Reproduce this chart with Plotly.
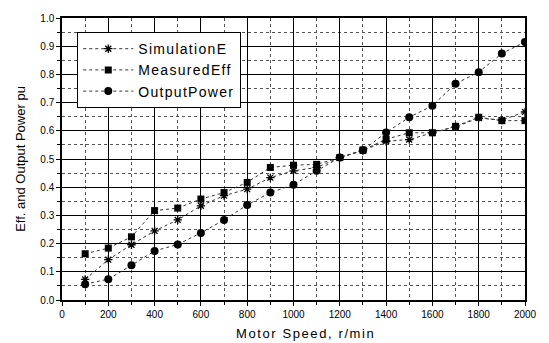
import plotly.graph_objects as go

# Motor speed (r/min)
speed = [100, 200, 300, 400, 500, 600, 700, 800, 900, 1000,
         1100, 1200, 1300, 1400, 1500, 1600, 1700, 1800, 1900, 2000]

# Simulated efficiency (pu)
sim_eff = [0.073, 0.143, 0.196, 0.245, 0.284, 0.334, 0.370, 0.393, 0.434, 0.458,
           0.470, 0.505, 0.530, 0.563, 0.569, 0.593, 0.614, 0.645, 0.638, 0.667]

# Measured efficiency (pu)
meas_eff = [0.164, 0.184, 0.224, 0.317, 0.326, 0.358, 0.381, 0.417, 0.470, 0.478,
            0.481, 0.505, 0.532, 0.570, 0.593, 0.593, 0.616, 0.648, 0.636, 0.636]

# Output power (pu)
out_power = [0.056, 0.074, 0.123, 0.174, 0.197, 0.238, 0.284, 0.337, 0.381, 0.409,
             0.458, 0.505, 0.531, 0.594, 0.648, 0.689, 0.767, 0.808, 0.874, 0.915]

series_names = ["SimulationE", "MeasuredEff", "OutputPower"]
x_title = "Motor Speed, r/min"
y_title = "Eff. and Output Power pu"

x_ticks = list(range(0, 2001, 200))
y_ticks = [round(v * 0.1, 1) for v in range(0, 11)]

font_family = "Liberation Sans, Arial, sans-serif"
line_style = dict(color="#333333", width=1, dash="dot")


def spaced(text, px):
    """Wrap text in a span with extra letter spacing."""
    return f'<span style="letter-spacing:{px}px">{text}</span>'


fig = go.Figure()
fig.add_trace(go.Scatter(
    x=speed, y=sim_eff, name=spaced(series_names[0], 1.3), mode="lines+markers",
    line=line_style,
    marker=dict(symbol="asterisk", size=7, color="black",
                line=dict(color="black", width=1.3)),
))
fig.add_trace(go.Scatter(
    x=speed, y=meas_eff, name=spaced(series_names[1], 1.3), mode="lines+markers",
    line=line_style,
    marker=dict(symbol="square", size=7, color="black"),
))
fig.add_trace(go.Scatter(
    x=speed, y=out_power, name=spaced(series_names[2], 1.3), mode="lines+markers",
    line=line_style,
    marker=dict(symbol="circle", size=8, color="black"),
))

axis_common = dict(
    showline=True, linecolor="black", linewidth=1.5, mirror=True,
    showgrid=True, gridcolor="black", gridwidth=1.2,
    ticks="outside", ticklen=4, tickcolor="black",
    tickfont=dict(family=font_family, size=10, color="black"),
    zeroline=False,
    minor=dict(showgrid=True, gridcolor="#555555", griddash="dot",
               gridwidth=1, ticks="outside", ticklen=3, tickcolor="black"),
)

fig.update_xaxes(
    range=[0, 2000], tickvals=x_ticks, ticktext=[str(v) for v in x_ticks],
    minor_dtick=100,
    **axis_common,
)
fig.update_yaxes(
    range=[0, 1.0], tickvals=y_ticks, ticktext=[f"{v:.1f}" for v in y_ticks],
    minor_dtick=0.05,
    title=dict(text=y_title, standoff=12,
               font=dict(family=font_family, size=13, color="black")),
    **axis_common,
)

# x-axis title placed as an annotation below the tick labels
fig.add_annotation(
    text=spaced(x_title, 1.6), xref="paper", yref="paper",
    x=0.525, y=0, yshift=-33, xanchor="center", yanchor="middle",
    showarrow=False,
    font=dict(family=font_family, size=13, color="black"),
)

fig.update_layout(
    width=549, height=343,
    margin=dict(l=62, r=15, t=16, b=43),
    paper_bgcolor="white", plot_bgcolor="white",
    font=dict(family=font_family, color="black"),
    legend=dict(
        x=0.033, y=0.95, xanchor="left", yanchor="top",
        bgcolor="white", bordercolor="black", borderwidth=1,
        font=dict(family=font_family, size=14, color="black"),
        itemwidth=50, tracegroupgap=0,
    ),
    showlegend=True,
)

fig.write_html("out.html")
